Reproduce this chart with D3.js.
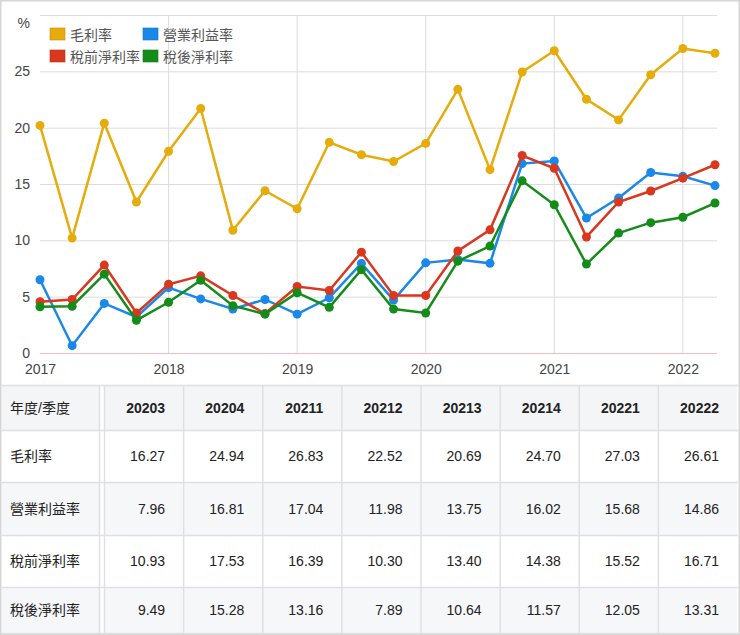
<!DOCTYPE html>
<html>
<head>
<meta charset="utf-8">
<script src="https://d3js.org/d3.v7.min.js"></script>
<style>
  body { margin: 0; background: #fff; }
  text { font-family: "Liberation Sans", Arial, "Noto Sans CJK TC", sans-serif; }
</style>
</head>
<body>
<svg width="740" height="635"></svg>
<script>
  // quarters 2017Q1 .. 2022Q2
  var quarters = ["20171","20172","20173","20174","20181","20182","20183","20184",
                  "20191","20192","20193","20194","20201","20202","20203","20204",
                  "20211","20212","20213","20214","20221","20222"];
  var gross     = [20.2,10.2,20.4,13.4,17.9,21.7,10.9,14.4,12.8,18.7,17.6,17.0,18.6,23.4,16.27,24.94,26.83,22.52,20.69,24.70,27.03,26.61];
  var operating = [6.5,0.65,4.4,3.2,5.8,4.8,3.9,4.75,3.45,4.9,7.95,4.7,8.0,8.3,7.96,16.81,17.04,11.98,13.75,16.02,15.68,14.86];
  var pretax    = [4.55,4.75,7.8,3.55,6.1,6.85,5.1,3.5,5.9,5.55,8.95,5.1,5.1,9.05,10.93,17.53,16.39,10.30,13.40,14.38,15.52,16.71];
  var aftertax  = [4.1,4.15,7.0,2.9,4.5,6.45,4.2,3.45,5.35,4.05,7.4,3.9,3.55,8.15,9.49,15.28,13.16,7.89,10.64,11.57,12.05,13.31];
  var seriesNames = ["毛利率","營業利益率","稅前淨利率","稅後淨利率"];
  var colors = ["#e6ac0c","#1a88e8","#d9381e","#148c1a"];
  var yTicks = [0,5,10,15,20,25,30];
  var xYears = [2017,2018,2019,2020,2021,2022];
  var tableCols = quarters.slice(14);
  var tableHead = "年度/季度";

  var allSeries = [gross, operating, pretax, aftertax];
  var svg = d3.select("svg");

  var x = d3.scaleLinear().domain([2017, 2022.25]).range([40, 715]);
  var y = d3.scaleLinear().domain([0, 30]).range([353, 15]);
  var qx = function(q) { return +q.slice(0, 4) + (+q.slice(4) - 1) / 4; };

  // outer frame
  svg.append("rect").attr("x", 0.5).attr("y", 0.5).attr("width", 739).attr("height", 634)
    .attr("fill", "none").attr("stroke", "#d6d6d6").attr("stroke-width", 2);

  // horizontal grid + y labels
  var yAxis = d3.axisLeft(y).tickValues(yTicks).tickSize(-(717 - 40))
    .tickFormat(function(d) { return d === 30 ? "%" : d; });
  var gy = svg.append("g").attr("transform", "translate(40,0)").call(yAxis);
  gy.select(".domain").remove();
  gy.selectAll(".tick line").attr("stroke", function(d) { return d === 0 ? "#eebcc4" : "#dcdcdc"; });
  gy.selectAll(".tick text").attr("x", -10).attr("fill", "#444").style("font-size", "14px");
  gy.selectAll(".tick").filter(function(d) { return d === 30; }).select("text").attr("dy", "0.9em");

  // vertical grid + x labels
  var xAxis = d3.axisBottom(x).tickValues(xYears).tickSize(0).tickFormat(d3.format("d"));
  var gx = svg.append("g").attr("transform", "translate(0,353)").call(xAxis);
  gx.select(".domain").remove();
  gx.selectAll(".tick text").attr("y", 11).attr("fill", "#444").style("font-size", "14px");
  svg.append("g").selectAll("line").data(xYears.slice(1)).join("line")
    .attr("x1", function(d) { return x(d); }).attr("x2", function(d) { return x(d); })
    .attr("y1", y(30)).attr("y2", y(0)).attr("stroke", "#dcdcdc");

  // lines, drawn gross, operating, pretax, aftertax
  var line = d3.line().x(function(d, i) { return x(qx(quarters[i])); }).y(function(d) { return y(d); });
  allSeries.forEach(function(s, k) {
    var g = svg.append("g");
    g.append("path").datum(s).attr("d", line).attr("fill", "none")
      .attr("stroke", colors[k]).attr("stroke-width", 2.5);
    g.selectAll("circle").data(s).join("circle")
      .attr("cx", function(d, i) { return x(qx(quarters[i])); })
      .attr("cy", function(d) { return y(d); })
      .attr("r", 4.5).attr("fill", colors[k]);
  });

  // legend
  var lg = svg.append("g").selectAll("g").data(seriesNames).join("g")
    .attr("transform", function(d, i) { return "translate(" + (50 + (i % 2) * 93) + "," + (28 + Math.floor(i / 2) * 22) + ")"; });
  lg.append("rect").attr("width", 15).attr("height", 12).attr("fill", function(d, i) { return colors[i]; })
    .attr("stroke", function(d, i) { return d3.color(colors[i]).darker(0.5); }).attr("stroke-width", 0.6);
  lg.append("text").attr("x", 20).attr("y", 11.5).attr("fill", "#555").style("font-size", "14px").text(function(d) { return d; });

  // table
  var rowsY = [385, 430, 482, 535, 587, 633];
  var colX = d3.scaleBand().domain(tableCols).range([104, 737]);
  var tbl = svg.append("g");
  var rowLabels = [tableHead].concat(seriesNames);
  rowLabels.forEach(function(lbl, r) {
    var y0 = rowsY[r], h = rowsY[r + 1] - y0;
    var bg = r === 0 ? "#f4f5f7" : (r % 2 === 0 ? "#f6f7f9" : "#ffffff");
    tbl.append("rect").attr("x", 2).attr("y", y0).attr("width", 97).attr("height", h).attr("fill", bg);
    tbl.append("rect").attr("x", 104).attr("y", y0).attr("width", 633).attr("height", h).attr("fill", bg);
    tbl.append("text").attr("x", 10).attr("y", y0 + h / 2 + 5).attr("fill", "#222")
      .style("font-size", "14px").text(lbl);
    var vals = r === 0 ? tableCols : allSeries[r - 1].slice(14).map(function(v) { return v.toFixed(2); });
    tbl.selectAll(null).data(vals).join("text")
      .attr("x", function(d, i) { return colX(tableCols[i]) + colX.bandwidth() - 18; })
      .attr("y", y0 + h / 2 + 5).attr("text-anchor", "end").attr("fill", "#222")
      .style("font-size", "14px").style("font-weight", r === 0 ? "bold" : "normal").text(function(d) { return d; });
  });
  // table borders
  rowsY.forEach(function(yy) {
    tbl.append("line").attr("x1", 2).attr("x2", 738).attr("y1", yy + 0.5).attr("y2", yy + 0.5)
      .attr("stroke", "#e0e0e2").attr("stroke-width", 1.5);
  });
  [99, 104].concat(tableCols.slice(1).map(function(c) { return colX(c); })).forEach(function(xx) {
    tbl.append("line").attr("x1", xx + 0.5).attr("x2", xx + 0.5).attr("y1", 385).attr("y2", 633)
      .attr("stroke", "#e0e0e2").attr("stroke-width", 1.5);
  });
</script>
</body>
</html>
